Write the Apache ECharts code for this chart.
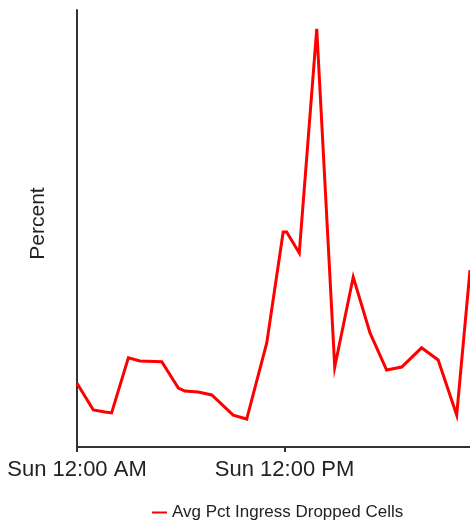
<!DOCTYPE html>
<html>
<head>
<meta charset="utf-8">
<script src="https://cdn.jsdelivr.net/npm/echarts@6/dist/echarts.min.js"></script>
<style>
html,body{margin:0;padding:0;background:#fff;}
#c{width:470px;height:521px;}
</style>
</head>
<body>
<div id="c"></div>
<script>
// Hours since Sun 12:00 AM
const hours = [0, 0.94, 1.62, 2.0, 2.97, 3.64, 4.9, 5.86, 6.24, 7.0, 7.79, 9.03, 9.81, 10.97, 11.92, 12.12, 12.85, 13.86, 14.9, 15.97, 16.94, 17.9, 18.77, 19.92, 20.88, 21.95, 22.72];
// Avg Pct Ingress Dropped Cells (relative scale, axis top = 100)
const values = [14.6, 8.5, 8.0, 7.8, 20.4, 19.7, 19.5, 13.5, 12.8, 12.6, 11.9, 7.3, 6.4, 23.8, 49.2, 49.2, 44.4, 95.7, 18.3, 38.9, 26.1, 17.6, 18.3, 22.7, 19.9, 7.3, 40.5];
const tickHours = [0, 12];
const tickLabels = ['Sun 12:00 AM', 'Sun 12:00 PM'];
const seriesName = 'Avg Pct Ingress Dropped Cells';
const yAxisName = 'Percent';

const chart = echarts.init(document.getElementById('c'), null, {renderer: 'canvas'});
const font = '"Liberation Sans", Arial, sans-serif';
chart.setOption({
  animation: false,
  backgroundColor: '#fff',
  grid: {left: 77, top: 10, right: 0, bottom: 74, containLabel: false},
  xAxis: {
    type: 'value',
    min: 0,
    max: 22.72,
    interval: 12,
    splitLine: {show: false},
    axisLine: {show: true, lineStyle: {color: '#333', width: 2}},
    axisTick: {show: true, customValues: tickHours, length: 5, lineStyle: {color: '#333', width: 2}},
    axisLabel: {
      customValues: tickHours,
      formatter: v => tickLabels[tickHours.indexOf(v)] || '',
      color: '#222', fontSize: 22, fontFamily: font, margin: 12
    }
  },
  yAxis: {
    type: 'value',
    min: 0,
    max: 100,
    name: yAxisName,
    nameLocation: 'middle',
    nameRotate: 90,
    nameGap: 28,
    nameTextStyle: {color: '#222', fontSize: 21, fontFamily: font, padding: [0, 0, 0, 10]},
    splitLine: {show: false},
    axisLine: {show: true, lineStyle: {color: '#333', width: 2}},
    axisTick: {show: false},
    axisLabel: {show: false}
  },
  legend: {
    left: 147,
    top: 499,
    icon: 'rect',
    itemWidth: 15,
    itemHeight: 2,
    itemGap: 10,
    textStyle: {color: '#222', fontSize: 17, fontFamily: font},
    data: [seriesName]
  },
  series: [{
    name: seriesName,
    type: 'line',
    data: hours.map((h, i) => [h, values[i]]),
    showSymbol: false,
    symbol: 'none',
    smooth: false,
    clip: true,
    itemStyle: {color: '#ff0000'},
    lineStyle: {color: '#ff0000', width: 3, join: 'miter'}
  }]
});
</script>
</body>
</html>
